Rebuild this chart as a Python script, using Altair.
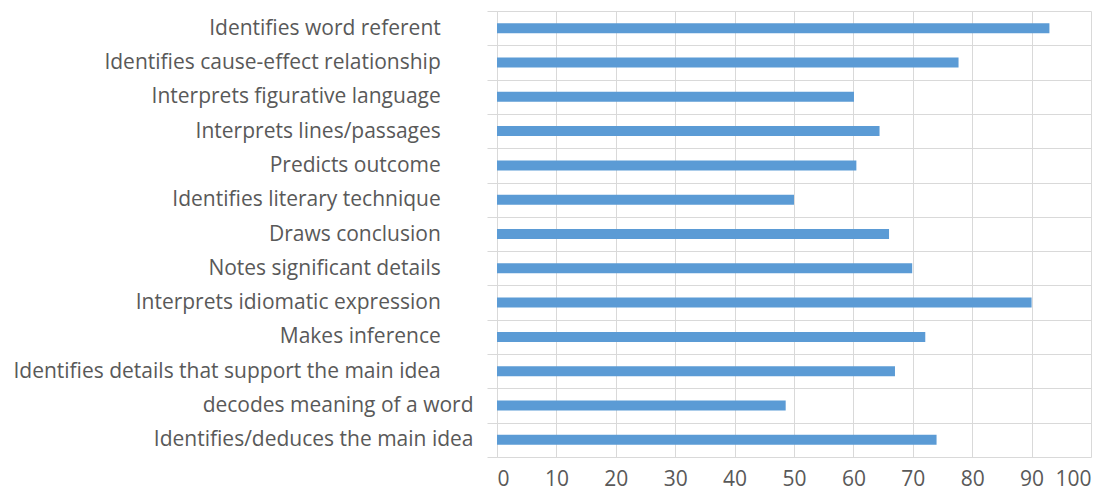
import altair as alt
import pandas as pd

# trailing non-breaking spaces (kept by a final zero-width space) reproduce
# the original labels' trailing blanks
PAD = "\u00a0" * 6 + "\u200b"

skills = [
    "Identifies word referent" + PAD,
    "Identifies cause-effect relationship" + PAD,
    "Interprets figurative language" + PAD,
    "Interprets lines/passages" + PAD,
    "Predicts outcome" + PAD,
    "Identifies literary technique" + PAD,
    "Draws conclusion" + PAD,
    "Notes significant details" + PAD,
    "Interprets idiomatic expression" + PAD,
    "Makes inference" + PAD,
    "Identifies details that support the main idea" + PAD,
    "decodes meaning of a word",
    "Identifies/deduces the main idea",
]
scores = [93.0, 77.7, 60.1, 64.4, 60.5, 50.0, 66.0, 69.9, 90.0, 72.1, 67.0, 48.6, 74.0]
x_ticks = list(range(0, 101, 10))

df = pd.DataFrame({"skill": skills, "score": scores})

FONT = "Open Sans"
TXT = "#595959"
GRID = "#d9d9d9"
FS = 21

chart = (
    alt.Chart(df)
    .mark_bar(color="#5b9bd5", size=10)
    .encode(
        x=alt.X(
            "score:Q",
            scale=alt.Scale(domain=[0, 100], nice=False),
            axis=alt.Axis(
                values=x_ticks,
                title=None,
                domain=False,
                ticks=False,
                grid=True,
                gridColor=GRID,
                gridWidth=1,
                labelFont=FONT,
                labelFontSize=FS,
                labelColor=TXT,
                labelPadding=11,
            ),
        ),
        y=alt.Y(
            "skill:N",
            sort=None,
            scale=alt.Scale(paddingInner=0, paddingOuter=0),
            axis=alt.Axis(
                title=None,
                tickBand="extent",
                grid=True,
                gridColor=GRID,
                gridWidth=1,
                domain=True,
                domainColor=GRID,
                ticks=True,
                tickColor=GRID,
                tickSize=10,
                labelFont=FONT,
                labelFontSize=FS,
                labelColor=TXT,
                labelPadding=14,
                labelLimit=0,
            ),
        ),
    )
    .properties(
        width=594,
        height=446,
        autosize=alt.AutoSizeParams(type="none"),
        padding={"left": 489, "top": 3, "right": 18, "bottom": 35},
    )
    .configure_view(stroke=None)
)

chart.save("out.html", embed_options={"renderer": "svg", "actions": False})
